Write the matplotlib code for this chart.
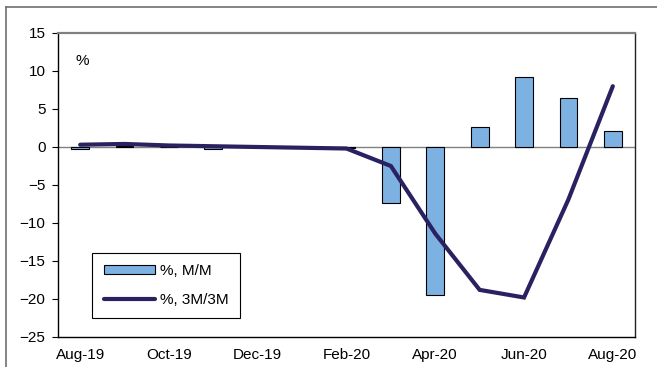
import numpy as np
import matplotlib
matplotlib.use("Agg")
import matplotlib.pyplot as plt
from matplotlib.lines import Line2D

plt.rcParams['font.family'] = ['Liberation Sans', 'DejaVu Sans']

# ===== data =====
months = ['Aug-19', 'Sep-19', 'Oct-19', 'Nov-19', 'Dec-19', 'Jan-20', 'Feb-20',
          'Mar-20', 'Apr-20', 'May-20', 'Jun-20', 'Jul-20', 'Aug-20']
mm = [-0.2, 0.1, 0.0, -0.3, 0.0, 0.0, -0.1, -7.4, -19.5, 2.6, 9.2, 6.4, 2.1]
m3m3 = [0.3, 0.4, 0.2, 0.1, 0.0, -0.1, -0.2, -2.5, -11.4, -18.8, -19.8, -6.9, 8.0]
yticks = [15, 10, 5, 0, -5, -10, -15, -20, -25]

bar_col = '#7DB1E2'
line_col = '#2A2260'
fs = 11

# ===== figure =====
fig = plt.figure(figsize=(6.57, 3.67), dpi=100)
ax = fig.add_axes([58/657, 30/367, 577/657, 304/367])

x = np.arange(len(months))
bars = ax.bar(x, mm, width=0.4, color=bar_col, edgecolor='black', linewidth=0.8,
              zorder=3, label='%, M/M')
line, = ax.plot(x, m3m3, color=line_col, lw=3, solid_capstyle='round',
                solid_joinstyle='miter', zorder=4, label='%, 3M/3M')
ax.axhline(0, color='#808080', lw=1, zorder=2)

ax.set_xlim(-0.5, len(months) - 0.5)
ax.set_ylim(-25, 15)
ax.set_yticks(yticks)
ax.set_xticks(x[::2])
ax.set_xticklabels(months[::2])
ax.tick_params(axis='x', length=0, pad=8, labelsize=fs)
ax.tick_params(axis='y', length=4, width=0.8, pad=5, labelsize=fs, direction='out')

ax.spines['left'].set_color('black')
ax.spines['bottom'].set_color('black')
ax.spines['right'].set_color('#222222')
ax.spines['top'].set_color('#808080')
ax.spines['top'].set_linewidth(1.6)
for s in ['left', 'bottom', 'right']:
    ax.spines[s].set_linewidth(1.0)

ax.text(0.03, 0.895, '%', transform=ax.transAxes, fontsize=fs)

leg = ax.legend([bars, line], ['%, M/M', '%, 3M/3M'],
                loc='lower left', bbox_to_anchor=(0.059, 0.062), borderaxespad=0,
                handlelength=3.4, handleheight=0.5, handletextpad=0.3,
                labelspacing=0.95, borderpad=0.75, fontsize=fs, fancybox=False,
                framealpha=1, edgecolor='black')
leg.get_frame().set_linewidth(0.8)

# outer frame of the picture
fig.add_artist(Line2D([6/657, 6/657], [0, 1 - 7/367], color='#707070', lw=1.2))
fig.add_artist(Line2D([6/657, 1], [1 - 7/367, 1 - 7/367], color='#707070', lw=1.2))

fig.savefig('out.png', dpi=100)
